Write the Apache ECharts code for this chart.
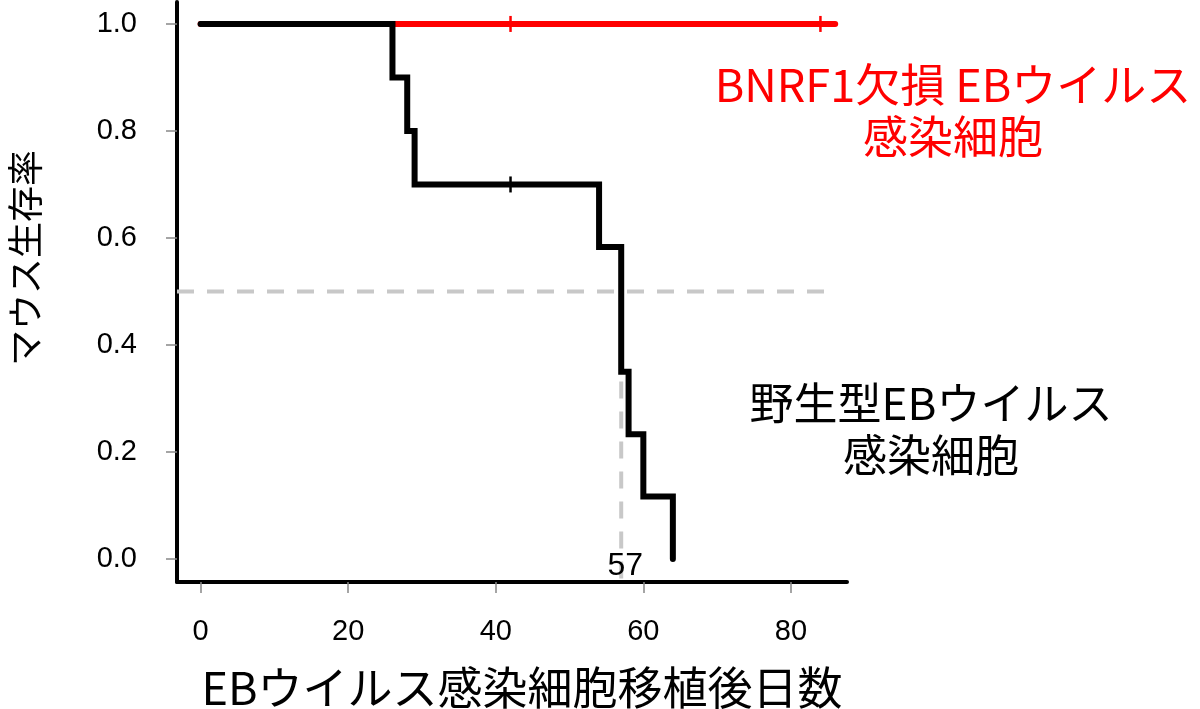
<!DOCTYPE html>
<html>
<head>
<meta charset="utf-8">
<script src="https://cdn.jsdelivr.net/npm/echarts@6/dist/echarts.min.js"></script>
<style>html,body{margin:0;padding:0;background:#fff;}#c{width:1200px;height:709px;}</style>
</head>
<body>
<div id="c"></div>
<script>
// ---- data ----
var wtTimes = [0, 26, 28, 29, 42, 54, 57, 58, 60, 64];
var wtSurv  = [1.0, 0.9, 0.8, 0.7, 0.7, 0.583, 0.35, 0.233, 0.117, 0.0];
var wtCensorTimes = [42];
var wtCensorSurv  = [0.7];
var koTimes = [0, 86];
var koSurv  = [1.0, 1.0];
var koCensorTimes = [42, 84];
var koCensorSurv  = [1.0, 1.0];
var medianTime = 57;
var medianSurv = 0.5;
var medianLineEnd = 85;
var xTicks = [0, 20, 40, 60, 80];
var yTicks = [0.0, 0.2, 0.4, 0.6, 0.8, 1.0];
var xMin = -3.2, xMax = 87.6;
var yMin = -0.043, yMax = 1.041;
var koLabel = 'BNRF1欠損 EBウイルス\n感染細胞';
var wtLabel = '野生型EBウイルス\n感染細胞';
var xTitle = 'EBウイルス感染細胞移植後日数';
var yTitle = 'マウス生存率';

function zip(a, b) { return a.map(function (v, i) { return [v, b[i]]; }); }

var chart = echarts.init(document.getElementById('c'), null, {renderer: 'canvas'});
var cjk = '"Noto Sans CJK JP", "Noto Sans", sans-serif';
var num = '"Liberation Sans", Arial, sans-serif';

chart.setOption({
  animation: false,
  backgroundColor: '#ffffff',
  grid: {left: 177, right: 353, top: 2, bottom: 127, containLabel: false},
  xAxis: {
    type: 'value', min: xMin, max: xMax,
    splitLine: {show: false},
    axisLine: {show: true, onZero: false, lineStyle: {color: '#000', width: 4}},
    axisTick: {show: true, length: 11, customValues: xTicks, lineStyle: {color: '#888', width: 1.5}},
    axisLabel: {show: true, customValues: xTicks, margin: 35, fontSize: 29, fontFamily: num, color: '#000'}
  },
  yAxis: {
    type: 'value', min: yMin, max: yMax,
    splitLine: {show: false},
    axisLine: {show: true, onZero: false, lineStyle: {color: '#000', width: 4}},
    axisTick: {show: true, length: 11, customValues: yTicks, lineStyle: {color: '#888', width: 1.5}},
    axisLabel: {show: true, customValues: yTicks, margin: 40, fontSize: 29, fontFamily: num, color: '#000',
      formatter: function (v) { return v.toFixed(1); }}
  },
  series: [
    {
      type: 'line', step: 'end', data: zip(koTimes, koSurv), symbol: 'none', z: 2,
      lineStyle: {color: '#ff0000', width: 6, cap: 'round'}
    },
    {
      type: 'scatter', data: zip(koCensorTimes, koCensorSurv), symbol: 'rect', symbolSize: [2.5, 16], z: 3,
      itemStyle: {color: '#ff0000', opacity: 1}
    },
    {
      type: 'line', data: [[xMin, medianSurv], [medianLineEnd, medianSurv]], symbol: 'none', z: 1,
      lineStyle: {color: '#c8c8c8', width: 4, type: [17, 13]}
    },
    {
      type: 'line', data: [[medianTime, medianSurv], [medianTime, yMin]], symbol: 'none', z: 1,
      lineStyle: {color: '#c8c8c8', width: 4, type: [17, 13]}
    },
    {
      type: 'line', step: 'end', data: zip(wtTimes, wtSurv), symbol: 'none', z: 4,
      lineStyle: {color: '#000000', width: 6, cap: 'round', join: 'miter'}
    },
    {
      type: 'scatter', data: zip(wtCensorTimes, wtCensorSurv), symbol: 'rect', symbolSize: [2.5, 16], z: 5,
      itemStyle: {color: '#000000', opacity: 1}
    },
    {
      type: 'scatter', data: [[medianTime, 0]], symbol: 'circle', symbolSize: 1, z: 6,
      itemStyle: {color: '#ffffff', opacity: 1},
      label: {show: true, position: 'inside', offset: [4, 7], formatter: function (p) { return String(p.value[0]); },
        fontSize: 32, fontFamily: num, color: '#000000', opacity: 1}
    }
  ],
  graphic: [
    {type: 'text', x: 953, y: 111, style: {text: koLabel, fill: '#ff0000', font: '45px ' + cjk, textAlign: 'center', textVerticalAlign: 'middle', lineHeight: 52}},
    {type: 'text', x: 931, y: 429, style: {text: wtLabel, fill: '#000', font: '44px ' + cjk, textAlign: 'center', textVerticalAlign: 'middle', lineHeight: 52}},
    {type: 'text', x: 522, y: 688, style: {text: xTitle, fill: '#000', font: '45px ' + cjk, textAlign: 'center', textVerticalAlign: 'middle'}},
    {type: 'text', x: 25, y: 258, rotation: Math.PI / 2, style: {text: yTitle, fill: '#000', font: '36px ' + cjk, textAlign: 'center', textVerticalAlign: 'middle'}}
  ]
});
</script>
</body>
</html>
